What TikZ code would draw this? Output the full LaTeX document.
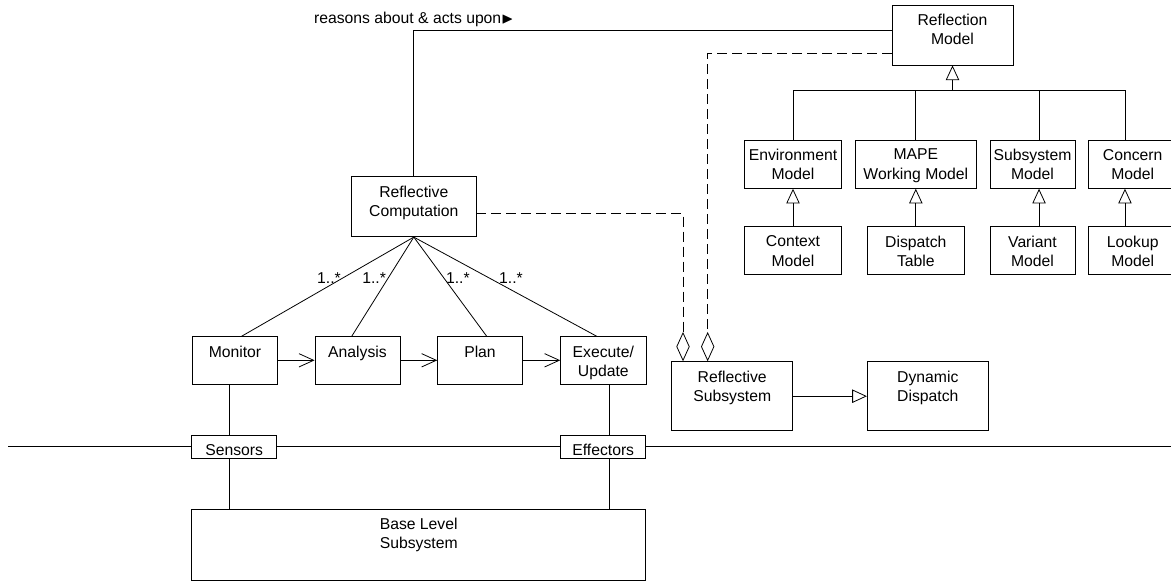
\documentclass[tikz,border=0pt]{standalone}
\usepackage{amssymb}
\usepackage{fontspec}
\setmainfont{Liberation Sans}
\usetikzlibrary{arrows.meta,calc}

\begin{document}
\begin{tikzpicture}[x=0.75pt, y=-0.75pt, line width=0.6pt]
        \tikzset{
            every node/.style={font=\fontsize{11.8}{14.5}\selectfont},
            box/.style={draw, fill=white, inner sep=0pt},
            boxtext/.style={anchor=north, align=center, inner sep=0pt, yshift=-6.8pt},
            mult/.style={inner sep=1.5pt},
            nav/.style={-{Straight Barb[length=11pt, width=10pt]}},
            inh/.style={-{Triangle[open, length=11pt, width=10pt]}},
            agg/.style={dash pattern=on 7.5pt off 3.75pt, -{Diamond[open, length=22pt, width=10pt]}}
        }
        \useasboundingbox (0,0) rectangle (1171,584);

        % models
        \node[box, minimum width=90.75pt, minimum height=45pt, label={[boxtext]north:Reflection\\Model}] (rm) at (952.5,35) {};
        \node[box, minimum width=73pt, minimum height=36.2pt, label={[boxtext]north:Environment\\Model}] (env) at (793,164.2) {};
        \node[box, minimum width=91.3pt, minimum height=36.2pt, label={[boxtext]north:MAPE\\Working Model}] (mape) at (915.8,164.2) {};
        \node[box, minimum width=63.75pt, minimum height=36.2pt, label={[boxtext]north:Subsystem\\Model}] (sub) at (1032.5,164.2) {};
        \node[box, minimum width=66.6pt, minimum height=36.2pt, label={[boxtext]north:Concern\\Model}] (con) at (1132.7,164.2) {};
        \node[box, minimum width=73pt, minimum height=35.5pt, label={[boxtext]north:Context\\Model}] (ctx) at (793,250.3) {};
        \node[box, minimum width=72.75pt, minimum height=35.5pt, label={[boxtext]north:Dispatch\\Table}] (dtab) at (915.8,250.3) {};
        \node[box, minimum width=63.75pt, minimum height=35.5pt, label={[boxtext]north:Variant\\Model}] (var) at (1032.5,250.3) {};
        \node[box, minimum width=66.6pt, minimum height=35.5pt, label={[boxtext]north:Lookup\\Model}] (lku) at (1132.7,250.3) {};

        % MAPE loop
        \node[box, minimum width=93.2pt, minimum height=45pt, label={[boxtext]north:Reflective\\Computation}] (rc) at (413.8,206.7) {};
        \node[box, minimum width=63.5pt, minimum height=35.5pt, label={[boxtext]north:Monitor}] (mon) at (235,360.3) {};
        \node[box, minimum width=63.75pt, minimum height=35.5pt, label={[boxtext]north:Analysis}] (ana) at (357.5,360.3) {};
        \node[box, minimum width=63.5pt, minimum height=35.5pt, label={[boxtext]north:Plan}] (pln) at (480,360.3) {};
        \node[box, minimum width=64pt, minimum height=35.5pt, label={[boxtext]north:Execute/\\Update}] (exe) at (603.3,360.3) {};

        % base level
        \node[box, minimum width=63.75pt, minimum height=17.5pt, label={[boxtext]north:Sensors}] (sens) at (234.2,446.7) {};
        \node[box, minimum width=63.75pt, minimum height=17.5pt, label={[boxtext]north:Effectors}] (eff) at (603.2,446.7) {};
        \node[box, minimum width=340.5pt, minimum height=53.8pt, label={[boxtext]north:Base Level\\Subsystem}] (base) at (418.7,544.8) {};

        % reflective subsystem
        \node[box, minimum width=90.75pt, minimum height=51.75pt, label={[boxtext]north:Reflective\\Subsystem}] (rs) at (732.2,396.2) {};
        \node[box, minimum width=90.75pt, minimum height=51.75pt, label={[boxtext]north:Dynamic\\Dispatch}] (dd) at (927.8,396.2) {};

        % lines
        % model hierarchy
        \coordinate (bar) at (952.5,90.7);
        \draw[inh] (bar) -- (rm.south);
        \draw (env.north) |- (bar) -| ([xshift=-5.8pt]con.north);
        \draw (mape.north) |- (bar);
        \draw ([xshift=4.9pt]sub.north) |- (bar);
        \draw[inh] (ctx) -- (env);
        \draw[inh] (dtab) -- (mape);
        \draw[inh] ([xshift=4.9pt]var.north) -- ([xshift=4.9pt]sub.south);
        \draw[inh] ([xshift=-5.8pt]lku.north) -- ([xshift=-5.8pt]con.south);
        % computation to its steps
        \draw (rc.south) -- node[mult, pos=0.41, anchor=east]{1..*} ([xshift=5pt]mon.north);
        \draw (rc.south) -- node[mult, pos=0.41, anchor=east]{1..*} ([xshift=-4.3pt]ana.north);
        \draw (rc.south) -- node[mult, pos=0.41, anchor=west]{1..*} ([xshift=5pt]pln.north);
        \draw (rc.south) -- node[mult, pos=0.41, anchor=west, xshift=6pt]{1..*} ([xshift=-5pt]exe.north);
        \draw[nav] (mon) -- (ana);
        \draw[nav] (ana) -- (pln);
        \draw[nav] (pln) -- (exe);
        % down to the base level
        \draw ($(mon.south)+(-5.7,0)$) -- ($(sens.north)+(-4.9,0)$);
        \draw ($(sens.south)+(-4.9,0)$) -- ($(sens.south |- base.north)+(-4.9,0)$);
        \draw ($(exe.south)+(6,0)$) -- ($(eff.north)+(6.1,0)$);
        \draw ($(eff.south)+(6.1,0)$) -- ($(eff.south |- base.north)+(6.1,0)$);
        \coordinate (lft) at (8,446.7);
        \coordinate (rgt) at (1171,446.7);
        \draw (lft) -- (sens.west) (sens.east) -- (eff.west) (eff.east) -- (rgt);
        % reflection
        \draw (rc.north) |- node[above, inner sep=2pt]{reasons about \& acts upon$\blacktriangleright$} ([yshift=3.75pt]rm.west);
        \draw[agg] ([yshift=-5pt]rc.east) -| ([xshift=-36.9pt]rs.north);
        \draw[agg] ([yshift=-13.7pt]rm.west) -| ([xshift=-18.4pt]rs.north);
        \draw[inh] (rs) -- (dd);
\end{tikzpicture}
\end{document}
